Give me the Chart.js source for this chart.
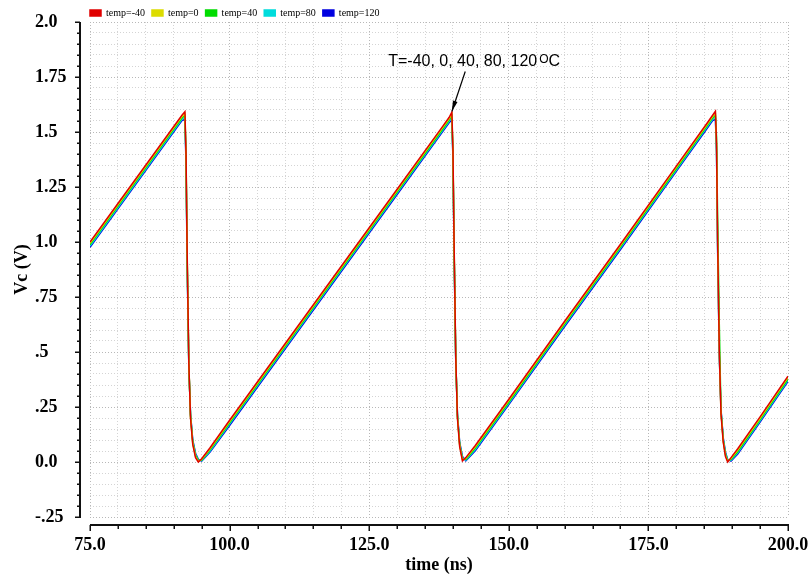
<!DOCTYPE html>
<html>
<head>
<meta charset="utf-8">
<script src="https://cdn.jsdelivr.net/npm/chart.js@4.4.1/dist/chart.umd.min.js"></script>
<style>
  html, body { margin: 0; padding: 0; background: #fff; }
  #wrap { width: 811px; height: 580px; }
</style>
</head>
<body>
<div id="wrap"><canvas id="chart" width="811" height="580"></canvas></div>
<script>
// time axis shared by all five temperature runs (ns)
const timeNs = [75, 80, 85, 90, 91.5, 92.0, 92.2, 92.4, 92.7, 93.0, 93.4, 93.9, 94.4, 95.0, 96.5,
  100, 110, 120, 130, 138, 139.3, 139.8, 140.0, 140.2, 140.5, 140.8, 141.2, 141.7, 142.3, 144,
  150, 160, 170, 180, 185.5, 186.5, 187.0, 187.2, 187.4, 187.7, 188.0, 188.4, 188.8, 189.2, 189.8, 191, 195, 200];

// Vc (V) per temperature
const vcTm40 = [1.000, 1.175, 1.350, 1.525, 1.577, 1.592, 1.400, 0.950, 0.450, 0.200, 0.080, 0.020, 0.000, 0.015, 0.065,
  0.190, 0.540, 0.890, 1.240, 1.520, 1.566, 1.590, 1.420, 1.000, 0.480, 0.200, 0.070, 0.005, 0.020, 0.075,
  0.285, 0.640, 0.990, 1.345, 1.540, 1.576, 1.594, 1.450, 1.000, 0.500, 0.220, 0.090, 0.025, 0.000, 0.020, 0.060, 0.205, 0.390];
const vcT0 = [0.994, 1.169, 1.344, 1.519, 1.571, 1.584, 1.390, 0.940, 0.445, 0.205, 0.085, 0.025, 0.003, 0.012, 0.060,
  0.184, 0.534, 0.884, 1.234, 1.514, 1.560, 1.582, 1.410, 0.990, 0.475, 0.205, 0.075, 0.010, 0.016, 0.069,
  0.279, 0.634, 0.984, 1.339, 1.534, 1.570, 1.586, 1.440, 0.990, 0.495, 0.225, 0.095, 0.030, 0.003, 0.016, 0.054, 0.199, 0.384];
const vcT40 = [0.988, 1.163, 1.338, 1.513, 1.565, 1.576, 1.380, 0.930, 0.440, 0.210, 0.090, 0.030, 0.006, 0.009, 0.055,
  0.178, 0.528, 0.878, 1.228, 1.508, 1.554, 1.574, 1.400, 0.980, 0.470, 0.210, 0.080, 0.015, 0.012, 0.063,
  0.273, 0.628, 0.978, 1.333, 1.528, 1.564, 1.578, 1.480, 1.100, 0.620, 0.230, 0.100, 0.035, 0.006, 0.012, 0.048, 0.193, 0.378];
const vcT80 = [0.982, 1.157, 1.332, 1.507, 1.559, 1.568, 1.370, 0.920, 0.435, 0.215, 0.095, 0.035, 0.009, 0.006, 0.050,
  0.172, 0.522, 0.872, 1.222, 1.502, 1.548, 1.566, 1.390, 0.970, 0.465, 0.215, 0.085, 0.020, 0.008, 0.057,
  0.267, 0.622, 0.972, 1.327, 1.522, 1.558, 1.570, 1.420, 0.970, 0.485, 0.235, 0.105, 0.040, 0.009, 0.008, 0.042, 0.187, 0.372];
const vcT120 = [0.976, 1.151, 1.326, 1.501, 1.553, 1.557, 1.350, 0.900, 0.430, 0.220, 0.100, 0.040, 0.012, 0.004, 0.045,
  0.166, 0.516, 0.866, 1.216, 1.496, 1.542, 1.555, 1.380, 0.960, 0.460, 0.220, 0.090, 0.025, 0.005, 0.051,
  0.261, 0.616, 0.966, 1.321, 1.516, 1.552, 1.558, 1.410, 0.960, 0.480, 0.240, 0.110, 0.045, 0.012, 0.004, 0.036, 0.181, 0.366];

const tempLabels = ['temp=-40', 'temp=0', 'temp=40', 'temp=80', 'temp=120'];
const tempColors = ['#e00000', '#dcdc00', '#00dc00', '#00dcdc', '#0000e0'];

const xTickLabels = ['75.0', '100.0', '125.0', '150.0', '175.0', '200.0'];
const yTickLabels = ['-.25', '0.0', '.25', '.5', '.75', '1.0', '1.25', '1.5', '1.75', '2.0'];

const noteText = 'T=-40, 0, 40, 80, 120';
const noteAt = { x: 128.4, y: 1.80 };
const arrowFrom = { x: 142.2, y: 1.775 };
const arrowTo = { x: 139.8, y: 1.593 };

const BOLD_SERIF = { family: 'Liberation Serif', size: 18, weight: 'bold' };
const isMajorX = (v) => v % 25 === 0;
const isMajorY = (v) => Math.round(v * 100) % 25 === 0;

// legend sits in a thin strip above the plot, starting at the plot's left edge
const legendStrip = {
  id: 'legendStrip',
  beforeLayout(chart) {
    const lg = chart.legend;
    if (lg && !lg._stripFit) {
      const fit = lg.fit.bind(lg);
      lg.fit = function () { fit(); this.height = 21; };
      lg._stripFit = true;
    }
  },
  afterLayout(chart) {
    const lg = chart.legend;
    if (lg) lg.left = chart.chartArea.left - lg.options.labels.padding;
  },
};

// detached axis lines with major/minor ticks, like the simulator plot
const axisFrame = {
  id: 'axisFrame',
  afterDraw(chart) {
    const { ctx, chartArea, scales: { x, y } } = chart;
    ctx.save();
    ctx.strokeStyle = '#111';

    const ay = Math.round(chartArea.bottom + 8);
    const ax = Math.round(chartArea.left - 10);

    ctx.lineWidth = 2;
    ctx.beginPath();
    ctx.moveTo(x.getPixelForValue(x.min), ay);
    ctx.lineTo(x.getPixelForValue(x.max) + 1, ay);
    ctx.moveTo(ax, y.getPixelForValue(y.max));
    ctx.lineTo(ax, y.getPixelForValue(y.min) + 1);
    ctx.stroke();

    ctx.lineWidth = 1.5;
    ctx.beginPath();
    x.ticks.forEach((t) => {
      const px = Math.round(x.getPixelForValue(t.value)) + 0.25;
      ctx.moveTo(px, ay);
      ctx.lineTo(px, ay + (isMajorX(t.value) ? 6 : 4));
    });
    y.ticks.forEach((t) => {
      const py = Math.round(y.getPixelForValue(t.value)) + 0.25;
      ctx.moveTo(ax, py);
      ctx.lineTo(ax - (isMajorY(t.value) ? 5 : 3), py);
    });
    ctx.stroke();
    ctx.restore();
  },
};

const tempNote = {
  id: 'tempNote',
  afterDatasetsDraw(chart) {
    const { ctx, scales: { x, y } } = chart;
    const tx = x.getPixelForValue(noteAt.x);
    const ty = y.getPixelForValue(noteAt.y);
    ctx.save();
    ctx.fillStyle = '#000';
    ctx.textBaseline = 'alphabetic';
    ctx.textAlign = 'left';
    ctx.font = '16px "Liberation Sans"';
    ctx.fillText(noteText, tx, ty);
    let cx = tx + ctx.measureText(noteText).width + 2;
    ctx.font = '12px "Liberation Sans"';
    ctx.fillText('O', cx, ty - 3);
    cx += ctx.measureText('O').width;
    ctx.font = '16px "Liberation Sans"';
    ctx.fillText('C', cx, ty);

    const x0 = x.getPixelForValue(arrowFrom.x), y0 = y.getPixelForValue(arrowFrom.y);
    const x1 = x.getPixelForValue(arrowTo.x), y1 = y.getPixelForValue(arrowTo.y);
    const ang = Math.atan2(y1 - y0, x1 - x0);
    ctx.strokeStyle = '#000';
    ctx.lineWidth = 1.2;
    ctx.beginPath();
    ctx.moveTo(x0, y0);
    ctx.lineTo(x1, y1);
    ctx.stroke();
    ctx.beginPath();
    ctx.moveTo(x1, y1);
    ctx.lineTo(x1 - 11 * Math.cos(ang - 0.22), y1 - 11 * Math.sin(ang - 0.22));
    ctx.lineTo(x1 - 11 * Math.cos(ang + 0.22), y1 - 11 * Math.sin(ang + 0.22));
    ctx.closePath();
    ctx.fill();
    ctx.restore();
  },
};

const series = [vcTm40, vcT0, vcT40, vcT80, vcT120];

new Chart(document.getElementById('chart'), {
  type: 'line',
  data: {
    datasets: series.map((vals, i) => ({
      label: tempLabels[i],
      data: timeNs.map((t, j) => ({ x: t, y: vals[j] })),
      xAxisID: 'x',
      yAxisID: 'y',
      borderColor: tempColors[i],
      backgroundColor: tempColors[i],
      borderWidth: 1.5,
      pointRadius: 0,
      tension: 0,
      fill: false,
    })),
  },
  plugins: [legendStrip, axisFrame, tempNote],
  options: {
    responsive: false,
    animation: false,
    events: [],
    layout: { padding: { top: 1 } },
    plugins: {
      tooltip: { enabled: false },
      legend: {
        position: 'top',
        align: 'start',
        fullSize: false,
        labels: {
          boxWidth: 11,
          boxHeight: 6,
          padding: 7,
          color: '#000',
          font: { family: 'Liberation Serif', size: 10 },
        },
      },
    },
    scales: {
      x: {
        type: 'linear',
        min: 75,
        max: 200,
        grid: {
          drawTicks: false,
          color: (c) => (isMajorX(c.tick.value) ? '#b8b8b8' : '#d4d4d4'),
        },
        border: { display: false, dash: [1, 2] },
        ticks: {
          stepSize: 5,
          autoSkip: false,
          maxRotation: 0,
          padding: 18,
          color: '#000',
          font: BOLD_SERIF,
          callback: (v) => (isMajorX(v) ? xTickLabels[(v - 75) / 25] : ''),
        },
        title: {
          display: true,
          text: 'time (ns)',
          color: '#000',
          font: BOLD_SERIF,
          padding: { top: 0, bottom: 4 },
        },
        afterFit: (s) => { s.height = 63; s.paddingRight = 23; },
      },
      y: {
        type: 'linear',
        position: 'left',
        min: -0.25,
        max: 2.0,
        grid: {
          drawTicks: false,
          color: (c) => (isMajorY(c.tick.value) ? '#b8b8b8' : '#d4d4d4'),
        },
        border: { display: false, dash: [1, 2] },
        ticks: {
          stepSize: 0.05,
          autoSkip: false,
          crossAlign: 'far',
          color: '#000',
          font: BOLD_SERIF,
          callback: (v) => {
            const k = Math.round(v * 100);
            return k % 25 === 0 ? yTickLabels[(k + 25) / 25] : '';
          },
        },
        afterFit: (s) => { s.width = 55; },
      },
      yTitle: {
        type: 'linear',
        position: 'left',
        weight: 1,
        grid: { display: false },
        border: { display: false },
        ticks: { display: false },
        title: {
          display: true,
          text: 'Vc (V)',
          color: '#000',
          font: BOLD_SERIF,
          padding: { top: 12, bottom: 0 },
        },
        afterFit: (s) => { s.width = 35; },
      },
    },
  },
});
</script>
</body>
</html>
